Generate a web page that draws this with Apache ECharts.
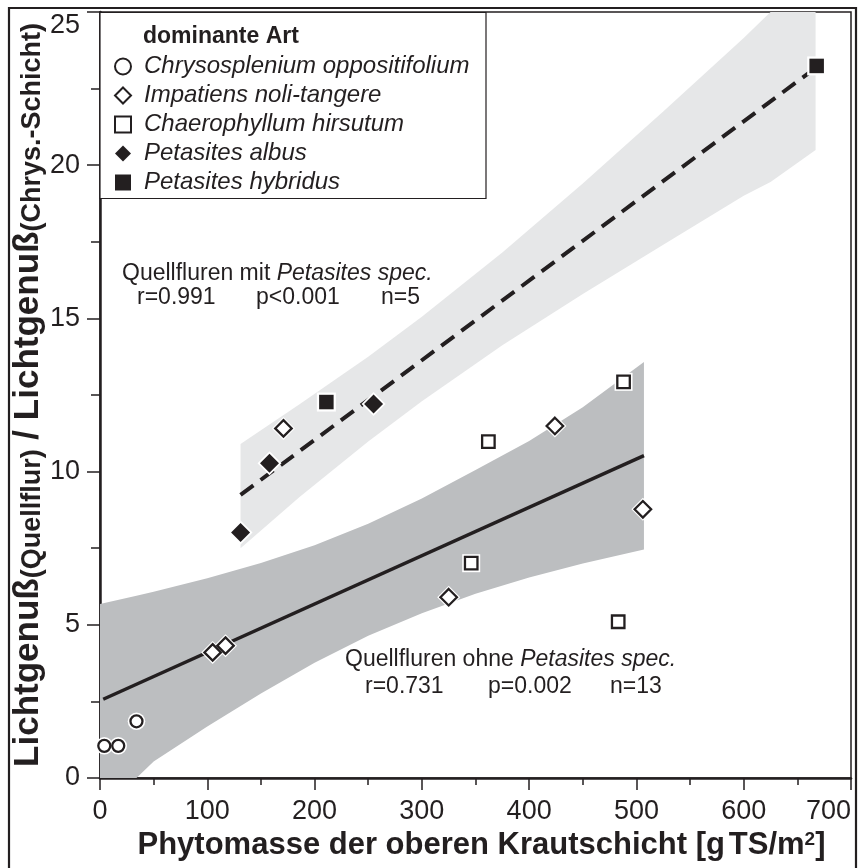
<!DOCTYPE html>
<html><head><meta charset="utf-8">
<script src="https://cdn.jsdelivr.net/npm/echarts@6/dist/echarts.min.js"></script>
<style>html,body{margin:0;padding:0;background:#fff}#c{width:858px;height:868px}</style>
</head><body><div id="c"></div>
<script>
const INK = '#231f20';
const FONT = '"Liberation Sans", Arial, Helvetica, sans-serif';

// species names (legend)
const speciesNames = ['Chrysosplenium oppositifolium','Impatiens noli-tangere','Chaerophyllum hirsutum','Petasites albus','Petasites hybridus'];

// observed points [Phytomasse, Lichtgenuss ratio]
const chrysosplenium    = [[4,1.05],[17,1.05],[34,1.85]];
const impatiens         = [[105,4.10],[117,4.32],[171,11.41],[325,5.90],[424,11.49],[506,8.77]];
const chaerophyllum     = [[488,12.93],[362,10.98],[346,7.01],[483,5.10]];
const petasitesAlbus    = [[131,8.01],[158,10.27],[255,12.21]];
const petasitesHybridus = [[211,12.27],[668,23.24]];

// regression lines
const fitOhne = [[3,2.57],[507,10.52]];
const fitMit  = [[131,9.24],[668,23.2]];

// confidence bands [x, lower, upper]
const bandOhne = [[0,-0.64,5.68],[34,0.0,5.95],[50,0.54,6.08],[100,1.68,6.52],[150,2.76,7.02],[200,3.76,7.6],[250,4.64,8.3],[300,5.38,9.12],[350,6.01,10.05],[400,6.54,11.0],[450,7.0,12.1],[507,7.46,13.58]];
const bandMit  = [[131,7.5,10.9],[186,9.17,12.2],[250,10.98,13.75],[300,12.3,15.05],[375,14.12,17.15],[450,15.8,19.4],[525,17.4,21.75],[600,19.0,24.15],[625,19.45,25.0],[667,20.5,25.0]];

function bandSeries(band, color) {
  return {
    type: 'custom', silent: true, clip: true, z: 1,
    data: [[0, 0]],
    renderItem: function (params, api) {
      const pts = [];
      band.forEach(b => pts.push(api.coord([b[0], b[1]])));
      for (let i = band.length - 1; i >= 0; i--) pts.push(api.coord([band[i][0], band[i][2]]));
      return { type: 'polygon', shape: { points: pts }, style: { fill: color } };
    }
  };
}
function halo(data, symbol, size) {
  return { type: 'scatter', data: data, symbol: symbol, symbolSize: size, silent: true, z: 3,
    itemStyle: { color: '#fff', opacity: 1 }, emphasis: { disabled: true } };
}
function marks(name, data, symbol, size, filled) {
  return { name: name, type: 'scatter', data: data, symbol: symbol, symbolSize: size, z: 4, silent: true,
    itemStyle: filled ? { color: INK, opacity: 1 } : { color: '#fff', borderColor: INK, borderWidth: 2.3, opacity: 1 },
    emphasis: { disabled: true } };
}

const chart = echarts.init(document.getElementById('c'), null, { renderer: 'canvas' });
chart.setOption({
  animation: false,
  backgroundColor: '#fff',
  grid: { left: 100, top: 12, right: 7, bottom: 90, show: true, borderColor: INK, borderWidth: 1.5, backgroundColor: '#fff',
    containLabel: false, outerBoundsMode: 'none' },
  title: { text: 'dominante Art', left: 143, top: 25, padding: 0,
    textStyle: { fontFamily: FONT, fontSize: 23, fontWeight: 'bold', color: INK } },
  legend: {
    data: speciesNames, orient: 'vertical', left: 114, top: 52, padding: 0, itemGap: 0,
    itemWidth: 16, itemHeight: 16, selectedMode: false,
    textStyle: { fontFamily: FONT, fontSize: 24, fontStyle: 'italic', color: INK, lineHeight: 29, padding: [0, 0, 0, 8] }
  },
  xAxis: {
    type: 'value', min: 0, max: 700, interval: 100,
    name: 'Phytomasse der oberen Krautschicht [g{sp| }TS/m{sup|2}]',
    nameLocation: 'middle', nameGap: 52, nameMoveOverlap: false,
    nameTextStyle: { fontFamily: FONT, fontSize: 31, fontWeight: 'bold', color: INK, padding: [0, 0, 0, 12],
      rich: { sp: { fontSize: 14 }, sup: { fontFamily: FONT, fontSize: 19, fontWeight: 'bold', color: INK, verticalAlign: 'top' } } },
    axisLine: { show: true, lineStyle: { color: INK, width: 2.5 } },
    axisTick: { show: true, length: 12, lineStyle: { color: INK, width: 1.5 } },
    minorTick: { show: true, splitNumber: 2, length: 7, lineStyle: { color: INK, width: 1.5 } },
    splitLine: { show: false },
    axisLabel: { fontFamily: FONT, fontSize: 27, color: INK, margin: 20, alignMaxLabel: 'right' }
  },
  yAxis: {
    type: 'value', min: 0, max: 25, interval: 5,
    name: '{b|Lichtgenuß}{s|(Quellflur)}{b| / Lichtgenuß}{s|(Chrys.-Schicht)}',
    nameLocation: 'middle', nameGap: 54, nameRotate: 90, nameMoveOverlap: false,
    nameTextStyle: { fontFamily: FONT, color: INK,
      rich: { b: { fontFamily: FONT, fontSize: 35, fontWeight: 'bold', color: INK, verticalAlign: 'bottom' },
              s: { fontFamily: FONT, fontSize: 27, fontWeight: 'bold', color: INK, verticalAlign: 'bottom' } } },
    axisLine: { show: true, lineStyle: { color: INK, width: 2.5 } },
    axisTick: { show: true, length: 13, lineStyle: { color: INK, width: 1.5 } },
    minorTick: { show: true, splitNumber: 2, length: 9, lineStyle: { color: INK, width: 1.5 } },
    splitLine: { show: false },
    axisLabel: { fontFamily: FONT, fontSize: 27, color: INK, margin: 20, verticalAlignMaxLabel: 'top' }
  },
  graphic: [
    { type: 'rect', z: 100, silent: true, shape: { x: 9, y: 8, width: 847, height: 900 }, style: { fill: 'none', stroke: INK, lineWidth: 2.2 } },
    { type: 'rect', z: 1, silent: true, shape: { x: 100, y: 12.5, width: 386, height: 186 }, style: { fill: '#fff', stroke: INK, lineWidth: 1.2 } },
    { type: 'text', x: 122, y: 274, silent: true, style: { text: '{n|Quellfluren mit }{i|Petasites spec.}', verticalAlign: 'middle',
      rich: { n: { fontFamily: FONT, fontSize: 23, fill: INK }, i: { fontFamily: FONT, fontSize: 23, fontStyle: 'italic', fill: INK } } } },
    { type: 'text', x: 137, y: 298, silent: true, style: { text: 'r=0.991', fontFamily: FONT, fontSize: 23, fill: INK, verticalAlign: 'middle' } },
    { type: 'text', x: 256, y: 298, silent: true, style: { text: 'p<0.001', fontFamily: FONT, fontSize: 23, fill: INK, verticalAlign: 'middle' } },
    { type: 'text', x: 381, y: 298, silent: true, style: { text: 'n=5', fontFamily: FONT, fontSize: 23, fill: INK, verticalAlign: 'middle' } },
    { type: 'text', x: 345, y: 660, silent: true, style: { text: '{n|Quellfluren ohne }{i|Petasites spec.}', verticalAlign: 'middle',
      rich: { n: { fontFamily: FONT, fontSize: 23, fill: INK }, i: { fontFamily: FONT, fontSize: 23, fontStyle: 'italic', fill: INK } } } },
    { type: 'text', x: 365, y: 687, silent: true, style: { text: 'r=0.731', fontFamily: FONT, fontSize: 23, fill: INK, verticalAlign: 'middle' } },
    { type: 'text', x: 488, y: 687, silent: true, style: { text: 'p=0.002', fontFamily: FONT, fontSize: 23, fill: INK, verticalAlign: 'middle' } },
    { type: 'text', x: 610, y: 687, silent: true, style: { text: 'n=13', fontFamily: FONT, fontSize: 23, fill: INK, verticalAlign: 'middle' } }
  ],
  series: [
    bandSeries(bandMit, '#e6e7e8'),
    bandSeries(bandOhne, '#bcbec0'),
    { type: 'line', data: fitOhne, showSymbol: false, silent: true, z: 2, lineStyle: { color: INK, width: 3.5 } },
    { type: 'line', data: fitMit, showSymbol: false, silent: true, z: 2, lineStyle: { color: INK, width: 4, type: [16, 9] } },
    halo(chrysosplenium, 'circle', 17.5),
    halo(impatiens, 'diamond', 23),
    halo(chaerophyllum, 'rect', 18),
    halo(petasitesAlbus, 'diamond', 24),
    halo(petasitesHybridus, 'rect', 19),
    marks(speciesNames[0], chrysosplenium, 'circle', 12, false),
    marks(speciesNames[1], impatiens, 'diamond', 16.5, false),
    marks(speciesNames[2], chaerophyllum, 'rect', 12.5, false),
    marks(speciesNames[3], petasitesAlbus, 'diamond', 19, true),
    marks(speciesNames[4], petasitesHybridus, 'rect', 14.5, true)
  ]
});
</script>
</body></html>
